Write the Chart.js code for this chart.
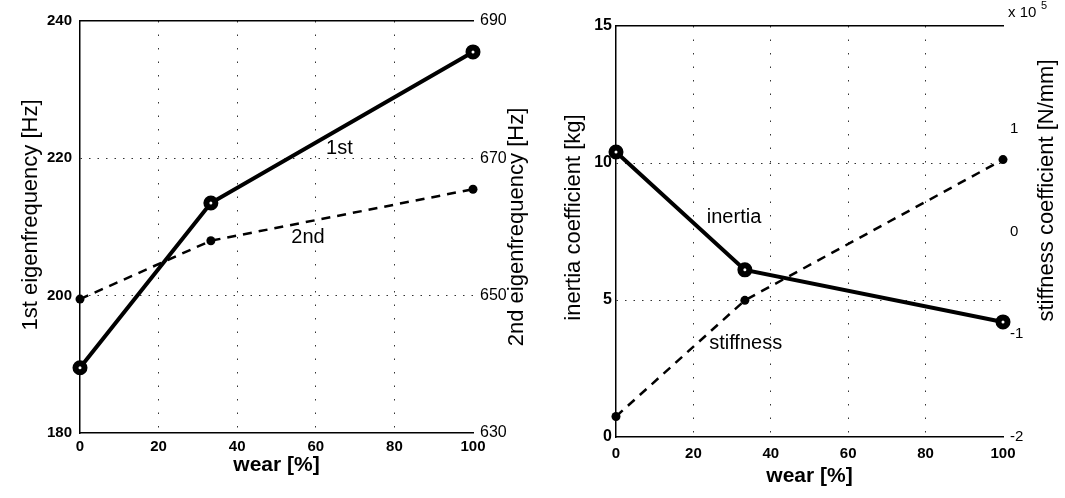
<!DOCTYPE html>
<html>
<head>
<meta charset="utf-8">
<script src="https://cdn.jsdelivr.net/npm/chart.js@4.4.0/dist/chart.umd.min.js"></script>
<style>
  html, body { margin: 0; padding: 0; background: #fff; }
  .panel { position: absolute; top: 0; }
  #leftPanel { left: 0; }
  #rightPanel { left: 535px; }
</style>
</head>
<body>
<div class="panel" id="leftPanel"><canvas id="freqChart" width="530" height="498"></canvas></div>
<div class="panel" id="rightPanel"><canvas id="coefChart" width="530" height="498"></canvas></div>
<script>
// wear levels and measured values
const wear = [0, 33.3, 100];
const firstFreq = [189.5, 213.5, 235.5];    // Hz, left axis
const secondFreq = [649.5, 658, 665.5];     // Hz, right axis
const inertiaCoef = [10.4, 6.1, 4.2];       // kg
const stiffnessCoef = [-1.8, -0.67, 0.7];   // x 10^5 N/mm

// axis ranges / tick steps
const wearTicks = [0, 100, 20];
const firstTicks = [180, 240, 20];
const secondTicks = [630, 690, 20];
const inertiaTicks = [0, 15, 5];
const stiffnessTicks = [-2, 2, 1];

const FONT = '"Liberation Sans", Arial, sans-serif';
Chart.defaults.font.family = FONT;
Chart.defaults.color = '#000';

const pts = (xs, ys) => xs.map((x, i) => ({ x: x, y: ys[i] }));

// hide the dotted grid line where it would sit on the frame
const gridColor = (lo, hi) => c => (c.tick.value === lo || c.tick.value === hi) ? 'rgba(0,0,0,0)' : '#333';

function solidSeries(data, yAxisID) {
  return {
    data: data, yAxisID: yAxisID, clip: false,
    borderColor: '#000', borderWidth: 4, tension: 0,
    pointRadius: 4.5, pointBorderWidth: 6, pointBorderColor: '#000', pointBackgroundColor: '#fff'
  };
}

function dashedSeries(data, yAxisID) {
  return {
    data: data, yAxisID: yAxisID, clip: false,
    borderColor: '#000', borderWidth: 2.5, borderDash: [9, 7], tension: 0,
    pointRadius: 4.5, pointBorderWidth: 0, pointBackgroundColor: '#000'
  };
}

function wearAxes(areaTop, bottomH, labelPad, titlePad) {
  return {
    x: {
      type: 'linear', min: wearTicks[0], max: wearTicks[1],
      ticks: { stepSize: wearTicks[2], padding: labelPad, maxRotation: 0, font: { size: 15, weight: 'bold' } },
      grid: { color: gridColor(wearTicks[0], wearTicks[1]), lineWidth: 1, drawTicks: false },
      border: { color: '#000', width: 1.5, dash: [1.5, 12] },
      title: { display: true, text: 'wear [%]', font: { size: 21, weight: 'bold' }, padding: { top: 0, bottom: titlePad } },
      afterFit: s => { s.height = bottomH; }
    },
    xTop: {
      type: 'linear', position: 'top', min: wearTicks[0], max: wearTicks[1],
      ticks: { display: false }, grid: { display: false },
      border: { color: '#000', width: 1.5 },
      afterFit: s => { s.height = areaTop; }
    }
  };
}

function yAxis(range, pos, width, pad, font, hideValue) {
  return {
    type: 'linear', position: pos, min: range[0], max: range[1],
    ticks: {
      stepSize: range[2], padding: pad, font: font,
      callback: v => (v === hideValue ? null : String(v))
    },
    grid: pos === 'left'
      ? { color: gridColor(range[0], range[1]), lineWidth: 1, drawTicks: false }
      : { display: false, drawTicks: false },
    border: pos === 'left' ? { color: '#000', width: 1.5, dash: [1.5, 7] } : { display: false },
    afterFit: s => { s.width = width; }
  };
}

// free text: in-plot series names, rotated y titles, exponent note
const plotText = {
  id: 'plotText',
  afterDraw(chart, args, opts) {
    const ctx = chart.ctx;
    const area = chart.chartArea;
    ctx.save();
    ctx.fillStyle = '#000';
    ctx.textAlign = 'center';
    ctx.textBaseline = 'middle';
    (opts.labels || []).forEach(l => {
      ctx.font = '20px ' + FONT;
      const sx = chart.scales.x, sy = chart.scales[l.axis];
      ctx.fillText(l.text, sx.getPixelForValue(l.x), sy.getPixelForValue(l.y));
    });
    (opts.yTitles || []).forEach(t => {
      ctx.save();
      ctx.font = '22px ' + FONT;
      const x = t.side === 'left' ? t.offset : chart.width - t.offset;
      ctx.translate(x, (area.top + area.bottom) / 2 + t.shift);
      ctx.rotate(-Math.PI / 2);
      ctx.fillText(t.text, 0, 0);
      ctx.restore();
    });
    if (opts.exponent) {
      ctx.textAlign = 'left';
      ctx.font = '15px ' + FONT;
      ctx.fillText('x 10', area.right + 5, area.top - 13);
      ctx.font = '11px ' + FONT;
      ctx.fillText(opts.exponent, area.right + 38, area.top - 20);
    }
    ctx.restore();
  }
};

new Chart(document.getElementById('freqChart'), {
  type: 'line',
  data: {
    datasets: [
      solidSeries(pts(wear, firstFreq), 'y'),
      dashedSeries(pts(wear, secondFreq), 'y2')
    ]
  },
  options: {
    responsive: false,
    animation: false,
    layout: { padding: 0 },
    plugins: {
      legend: { display: false }, tooltip: { enabled: false },
      plotText: {
        labels: [
          { text: '1st', x: 66, y: 221.5, axis: 'y' },
          { text: '2nd', x: 58, y: 658.5, axis: 'y2' }
        ],
        yTitles: [
          { text: '1st eigenfrequency [Hz]', side: 'left', offset: 31, shift: -12 },
          { text: '2nd eigenfrequency [Hz]', side: 'right', offset: 13, shift: 0 }
        ]
      }
    },
    scales: Object.assign(wearAxes(21, 65, 5, 20), {
      y: yAxis(firstTicks, 'left', 80, 8, { size: 15, weight: 'bold' }),
      y2: yAxis(secondTicks, 'right', 57, 7, { size: 16 })
    })
  },
  plugins: [plotText]
});

new Chart(document.getElementById('coefChart'), {
  type: 'line',
  data: {
    datasets: [
      solidSeries(pts(wear, inertiaCoef), 'y'),
      dashedSeries(pts(wear, stiffnessCoef), 'y2')
    ]
  },
  options: {
    responsive: false,
    animation: false,
    layout: { padding: 0 },
    plugins: {
      legend: { display: false }, tooltip: { enabled: false },
      plotText: {
        labels: [
          { text: 'inertia', x: 30.5, y: 8.0, axis: 'y' },
          { text: 'stiffness', x: 33.5, y: 3.4, axis: 'y' }
        ],
        yTitles: [
          { text: 'inertia coefficient [kg]', side: 'left', offset: 39, shift: -14 },
          { text: 'stiffness coefficient [N/mm]', side: 'right', offset: 18, shift: -41 }
        ],
        exponent: '5'
      }
    },
    scales: Object.assign(wearAxes(26, 61, 8, 9), {
      y: yAxis(inertiaTicks, 'left', 81, 4, { size: 16, weight: 'bold' }),
      y2: yAxis(stiffnessTicks, 'right', 62, 7, { size: 15 }, 2)
    })
  },
  plugins: [plotText]
});
</script>
</body>
</html>
